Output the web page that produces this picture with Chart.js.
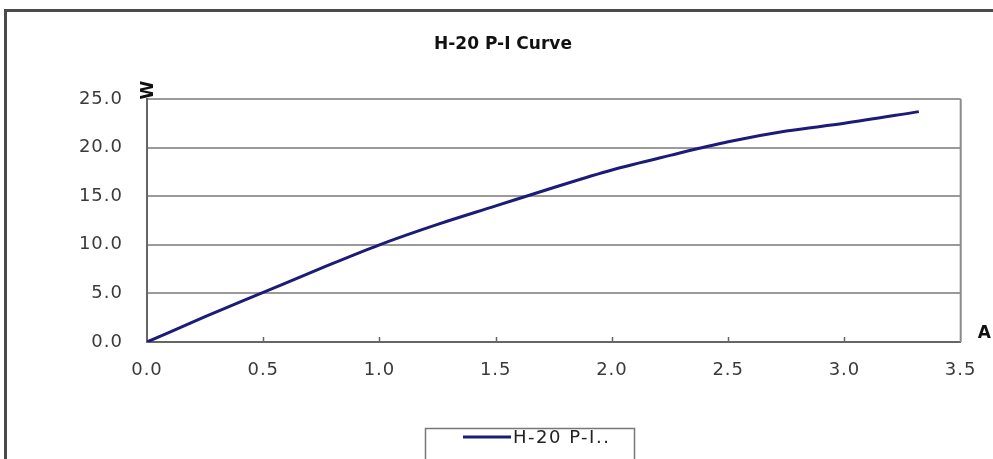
<!DOCTYPE html>
<html>
<head>
<meta charset="utf-8">
<script src="https://cdn.jsdelivr.net/npm/chart.js@4"></script>
<style>
  html, body { margin: 0; padding: 0; background: #fff; }
  #wrap { width: 993px; height: 459px; position: relative; }
</style>
</head>
<body>
<div id="wrap"><canvas id="piChart"></canvas></div>
<script>
// current (A) and power (W)
const currentA = [0, 0.25, 0.5, 0.75, 1.0, 1.25, 1.5, 1.75, 2.0, 2.25, 2.5, 2.75, 3.0, 3.32];
const powerW = [0, 2.6, 5.1, 7.6, 10.0, 12.1, 14.0, 15.9, 17.7, 19.2, 20.6, 21.7, 22.5, 23.7];
const xTicks = [0, 0.5, 1.0, 1.5, 2.0, 2.5, 3.0, 3.5];
const yTicks = [0, 5, 10, 15, 20, 25];
const seriesName = "H-20 P-I..";
const chartTitle = "H-20 P-I Curve";

const points = currentA.map((a, i) => ({ x: a, y: powerW[i] }));

// frame, title, plot border, inner x ticks, axis unit labels and boxed legend
const extras = {
    id: "extras",
    beforeDraw(chart) {
        const c = chart.ctx;
        c.save();
        c.fillStyle = "#fff";
        c.fillRect(0, 0, chart.width, chart.height);
        c.strokeStyle = "#4a4a4a";
        c.lineWidth = 3;
        c.beginPath();
        c.moveTo(5.5, chart.height);
        c.lineTo(5.5, 10.5);
        c.lineTo(chart.width, 10.5);
        c.stroke();
        c.restore();
        // the tick labels in the original are drawn a little wide
        c.letterSpacing = "1px";
    },
    afterDraw(chart) {
        const c = chart.ctx;
        const a = chart.chartArea;
        const xs = chart.scales.x;
        c.save();
        c.letterSpacing = "0px";
        // right edge of plot
        c.strokeStyle = "#8a8a8a";
        c.lineWidth = 2;
        c.beginPath();
        c.moveTo(a.right, a.top);
        c.lineTo(a.right, a.bottom);
        c.stroke();
        // small inward ticks on x axis
        c.strokeStyle = "#666";
        c.lineWidth = 1.5;
        xTicks.slice(1, -1).forEach(v => {
            const px = Math.round(xs.getPixelForValue(v)) + 0.5;
            c.beginPath();
            c.moveTo(px, a.bottom);
            c.lineTo(px, a.bottom - 5);
            c.stroke();
        });
        // title
        c.fillStyle = "#111";
        c.textAlign = "center";
        c.textBaseline = "middle";
        c.font = "bold 17px 'DejaVu Sans'";
        c.fillText(chartTitle, 503, 45);
        // unit labels
        c.save();
        c.translate(a.left + 2, a.top - 9);
        c.rotate(-Math.PI / 2);
        c.fillText("W", 0, 0);
        c.restore();
        c.textAlign = "left";
        c.fillText("A", a.right + 17, a.bottom - 8);
        // legend box
        const ds = chart.data.datasets[0];
        c.strokeStyle = "#777";
        c.lineWidth = 1.5;
        c.strokeRect(425.5, 428.5, 209, 60);
        c.strokeStyle = ds.borderColor;
        c.lineWidth = 3;
        c.beginPath();
        c.moveTo(463, 437);
        c.lineTo(511, 437);
        c.stroke();
        c.fillStyle = "#222";
        c.font = "18px 'DejaVu Sans'";
        c.letterSpacing = "1.5px";
        c.fillText(ds.label, 513, 438);
        c.restore();
    }
};

const tickFont = { family: "'DejaVu Sans'", size: 18 };

new Chart(document.getElementById("piChart"), {
    type: "line",
    data: {
        datasets: [{
            label: seriesName,
            data: points,
            borderColor: "#1c1c78",
            borderWidth: 3,
            pointRadius: 0,
            tension: 0.4,
            cubicInterpolationMode: "monotone",
            fill: false
        }]
    },
    options: {
        responsive: true,
        maintainAspectRatio: false,
        animation: false,
        layout: { padding: { left: 0, right: 30, top: 99, bottom: 0 } },
        plugins: {
            legend: { display: false },
            tooltip: { enabled: false },
            title: { display: false }
        },
        scales: {
            x: {
                type: "linear",
                min: 0,
                max: 3.5,
                afterFit: s => { s.height = 117; },
                afterBuildTicks: s => { s.ticks = xTicks.map(v => ({ value: v })); },
                grid: { drawOnChartArea: false, drawTicks: false },
                border: { color: "#666", width: 2 },
                ticks: {
                    padding: 18,
                    color: "#3a3a3a",
                    font: tickFont,
                    callback: v => Number(v).toFixed(1)
                }
            },
            y: {
                min: 0,
                max: 25,
                afterFit: s => { s.width = 147; },
                afterBuildTicks: s => { s.ticks = yTicks.map(v => ({ value: v })); },
                grid: { color: "#9a9a9a", lineWidth: 2, drawTicks: false },
                border: { color: "#666", width: 2 },
                ticks: {
                    padding: 24,
                    color: "#3a3a3a",
                    font: tickFont,
                    callback: v => Number(v).toFixed(1)
                }
            }
        }
    },
    plugins: [extras]
});
</script>
</body>
</html>
